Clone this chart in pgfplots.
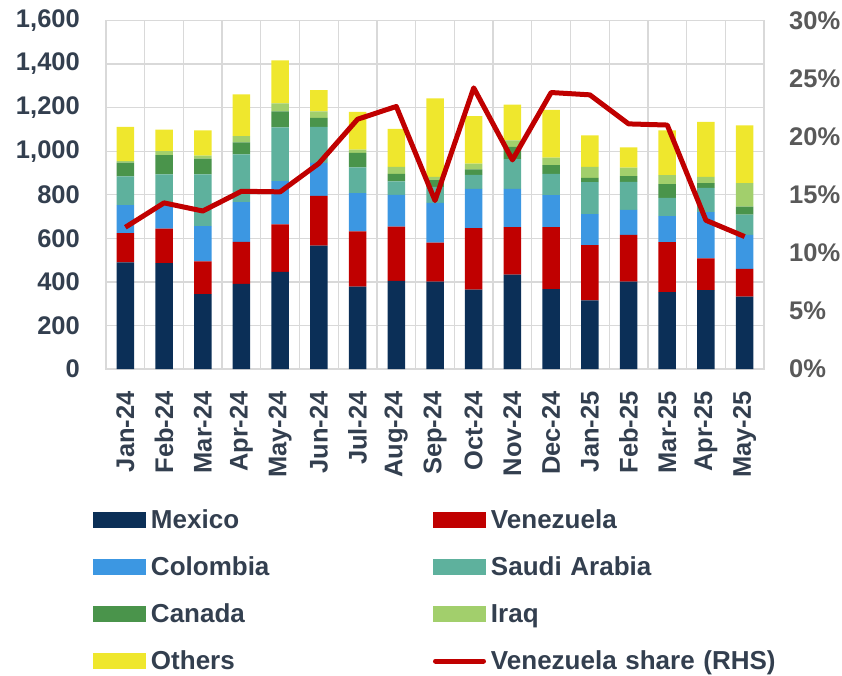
\documentclass[border=0pt]{standalone}
\usepackage{fontspec}
\setmainfont{Liberation Sans}
\usepackage{pgfplots}
\pgfplotsset{compat=1.18}
\usepackage{pgfplotstable}
\definecolor{cMex}{HTML}{0B2F57}
\definecolor{cVen}{HTML}{C00000}
\definecolor{cCol}{HTML}{3C97E2}
\definecolor{cSau}{HTML}{5EB19D}
\definecolor{cCan}{HTML}{4A944B}
\definecolor{cIrq}{HTML}{A2CF6C}
\definecolor{cOth}{HTML}{EFE72D}
\definecolor{gridc}{HTML}{D9D9D9}
\definecolor{txt}{HTML}{333F4F}
\definecolor{txtr}{HTML}{595959}
\pgfplotsset{
  barleg/.style={legend image code/.code={\fill[##1] (0pt,0pt) rectangle (53pt,16pt);}},
  lineleg/.style={legend image code/.code={\draw[##1, line cap=round] (2.5pt,8pt) -- (50.5pt,8pt);}},
}
\newcommand{\tfont}{\fontsize{25.5}{30}\selectfont\bfseries}
\newcommand{\lfont}{\fontsize{26}{30}\selectfont\bfseries}

\pgfplotstableread{
x Mex Ven Col Sau Can Irq Oth Share
0  489 135 128 132 64 6   158 12.2
1  486 158 108 142 88 18  99  14.3
2  344 150 162 237 73 14  115 13.6
3  391 193 182 219 56 28  192 15.3
4  446 218 198 247 74 37  197 15.25
5  567 228 151 166 41 30  97  17.7
6  378 254 176 118 66 15  173 21.5
7  405 249 146 61  35 32  174 22.6
8  401 179 183 73  31 15  360 14.5
9  365 282 180 64  25 27  218 24.2
10 433 218 176 136 57 30  164 18.0
11 367 284 147 98  40 34  220 23.8
12 315 254 142 147 20 50  145 23.6
13 401 215 115 128 26 39  94  21.1
14 353 230 119 84  63 41  206 21.0
15 362 146 212 112 21 29  253 12.8
16 332 128 156 93  36 108 265 11.4
}\data

\begin{document}
\begin{tikzpicture}
\useasboundingbox (0,0) rectangle (842pt,675pt);
\begin{axis}[
  at={(106pt,306pt)}, anchor=south west,
  scale only axis, width=658pt, height=348.5pt,
  ybar stacked, bar width=17.5pt,
  xmin=-0.5, xmax=16.5, ymin=0, ymax=1600,
  xtick={0,...,16},
  xticklabels={Jan-24,Feb-24,Mar-24,Apr-24,May-24,Jun-24,Jul-24,Aug-24,Sep-24,Oct-24,Nov-24,Dec-24,Jan-25,Feb-25,Mar-25,Apr-25,May-25},
  minor xtick={-0.5,0.5,...,16.5},
  xminorgrids, ymajorgrids,
  grid style={gridc, line width=1.3pt},
  minor grid style={gridc, line width=1.3pt},
  axis line style={gridc, line width=1.3pt},
  major tick style={draw=none}, minor tick style={draw=none},
  ytick={0,200,...,1600},
  yticklabels={0,200,400,600,800,{1,000},{1,200},{1,400},{1,600}},
  yticklabel style={font=\tfont, text=txt, inner sep=0pt, anchor=east, xshift=-26pt},
  xticklabel style={font=\tfont, text=txt, inner sep=0pt, yshift=-22pt, rotate=90, anchor=east},
  legend columns=2,
  legend style={at={(-0.01976,-0.4017)}, anchor=north west, draw=none, fill=none,
    inner sep=0pt, outer sep=0pt, column sep=0pt, row sep=23pt, font=\lfont, text=txt,
    nodes={text width=277pt, inner xsep=5pt, inner ysep=0pt, text height=19pt, text depth=5pt, anchor=base west, align=left}},
]
\addplot[fill=cMex, draw=none, barleg] table[x=x, y=Mex] {\data};
\addlegendentry{Mexico}
\addplot[fill=cVen, draw=none, barleg] table[x=x, y=Ven] {\data};
\addlegendentry{Venezuela}
\addplot[fill=cCol, draw=none, barleg] table[x=x, y=Col] {\data};
\addlegendentry{Colombia}
\addplot[fill=cSau, draw=none, barleg] table[x=x, y=Sau] {\data};
\addlegendentry{Saudi Arabia}
\addplot[fill=cCan, draw=none, barleg] table[x=x, y=Can] {\data};
\addlegendentry{Canada}
\addplot[fill=cIrq, draw=none, barleg] table[x=x, y=Irq] {\data};
\addlegendentry{Iraq}
\addplot[fill=cOth, draw=none, barleg] table[x=x, y=Oth] {\data};
\addlegendentry{Others}
\addlegendimage{draw=cVen, line width=5pt, lineleg}
\addlegendentry{\mbox{Venezuela share (RHS)}}
\end{axis}
\begin{axis}[
  at={(106pt,306pt)}, anchor=south west,
  scale only axis, width=658pt, height=348.5pt,
  xmin=-0.5, xmax=16.5, ymin=0, ymax=30,
  axis x line=none, axis y line*=right,
  axis line style={draw=none},
  major tick style={draw=none},
  ytick={0,5,...,30},
  yticklabels={0\%,5\%,10\%,15\%,20\%,25\%,30\%},
  yticklabel style={font=\tfont, text=txtr, inner sep=0pt, anchor=west, xshift=25pt},
]
\addplot[cVen, line width=5pt, line join=round, mark=none] table[x=x, y=Share] {\data};
\end{axis}
\end{tikzpicture}
\end{document}
